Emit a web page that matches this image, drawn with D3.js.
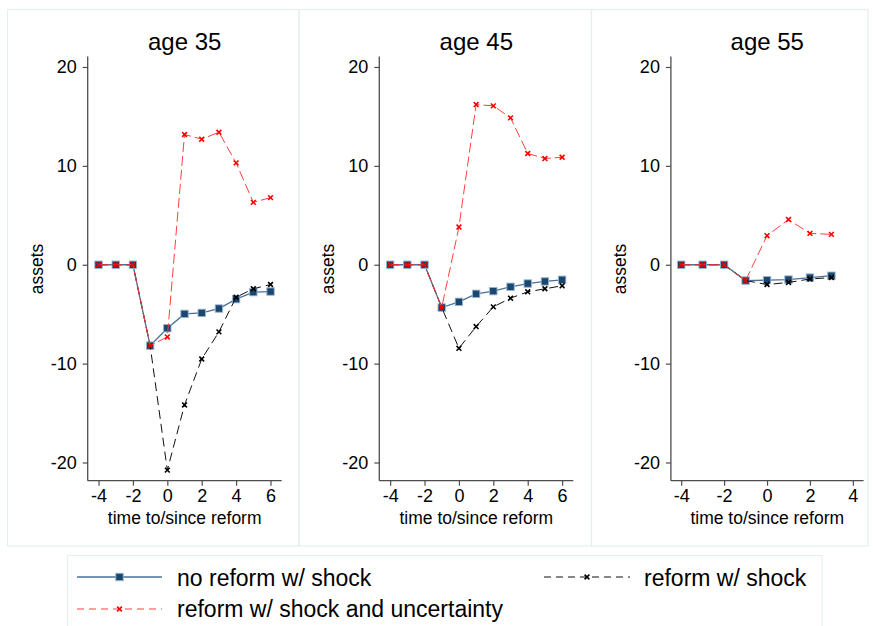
<!DOCTYPE html>
<html>
<head>
<meta charset="utf-8">
<script src="https://cdn.jsdelivr.net/npm/d3@7"></script>
<style>
  html, body { margin: 0; padding: 0; background: #fff; }
  text { font-family: "Liberation Sans", Arial, sans-serif; fill: #000; }
</style>
</head>
<body>
<script>
// ---------------- data ----------------
const panelTitles = ["age 35", "age 45", "age 55"];
const seriesNames = ["no reform w/ shock", "reform w/ shock", "reform w/ shock and uncertainty"];
const xLong = [-4, -3, -2, -1, 0, 1, 2, 3, 4, 5, 6];
const xShort = [-4, -3, -2, -1, 0, 1, 2, 3];
const xTicksLong = [-4, -2, 0, 2, 4, 6];
const xTicksShort = [-4, -2, 0, 2, 4];
const yTicks = [-20, -10, 0, 10, 20];

// age 35
const noReform35 = [0, 0, 0, -8.18, -6.42, -4.97, -4.87, -4.43, -3.48, -2.77, -2.71];
const reform35 = [0, 0, 0, -8.18, -20.77, -14.18, -9.53, -6.79, -3.28, -2.43, -2.0];
const reformUnc35 = [0, 0, 0, -8.18, -7.3, 13.17, 12.7, 13.4, 10.3, 6.31, 6.79];
// age 45
const noReform45 = [0, 0, 0, -4.33, -3.75, -2.94, -2.67, -2.23, -1.9, -1.69, -1.52];
const reform45 = [0, 0, 0, -4.33, -8.45, -6.25, -4.26, -3.38, -2.74, -2.43, -2.13];
const reformUnc45 = [0, 0, 0, -4.33, 3.81, 16.2, 16.07, 14.85, 11.25, 10.74, 10.87];
// age 55
const noReform55 = [0, 0, 0, -1.6, -1.56, -1.5, -1.3, -1.11];
const reform55 = [0, 0, 0, -1.6, -2.0, -1.79, -1.44, -1.3];
const reformUnc55 = [0, 0, 0, -1.6, 2.94, 4.57, 3.17, 3.07];

// ---------------- drawing ----------------
const W = 873, H = 626;
const FONT = "'Liberation Sans', Arial, sans-serif";
const svg = d3.select("body").append("svg").attr("width", W).attr("height", H);
svg.append("rect").attr("width", W).attr("height", H).attr("fill", "#fff");

const panels = [
  { title: panelTitles[0], x: xLong, ticks: xTicksLong, dom: [-4.63, 6.65], s: [noReform35, reform35, reformUnc35] },
  { title: panelTitles[1], x: xLong, ticks: xTicksLong, dom: [-4.63, 6.65], s: [noReform45, reform45, reformUnc45] },
  { title: panelTitles[2], x: xShort, ticks: xTicksShort, dom: [-4.48, 4.5], s: [noReform55, reform55, reformUnc55] }
];

const frameBorders = [[7.5, 299], [299, 591.5], [591.5, 868]];
const BLUE = "#1a476f";

const styles = [
  { stroke: "#4a7098", width: 1.3, dash: null, marker: "square" },
  { stroke: "#111", width: 1, dash: "9,5", marker: "x", mcolor: "#000" },
  { stroke: "#ff4040", width: 1, dash: "10,4", marker: "x", mcolor: "#ff0000" }
];

function drawX(g, cx, cy, r, color) {
  g.append("path")
    .attr("d", `M${cx - r},${cy - r}L${cx + r},${cy + r}M${cx - r},${cy + r}L${cx + r},${cy - r}`)
    .attr("stroke", color).attr("stroke-width", 1.6).attr("fill", "none");
}
function drawSquare(g, cx, cy) {
  g.append("rect").attr("x", cx - 3.7).attr("y", cy - 3.7).attr("width", 7.4).attr("height", 7.4)
    .attr("fill", BLUE).attr("stroke", "#9ab4cc").attr("stroke-width", 0.9);
}

panels.forEach((p, i) => {
  const [fx0, fx1] = frameBorders[i];
  svg.append("rect").attr("x", fx0).attr("y", 9.5).attr("width", fx1 - fx0).attr("height", 536.5)
    .attr("fill", "none").attr("stroke", "#e6eef1").attr("stroke-width", 1.2);

  const ox = 87.7 + i * 291.6;
  const x = d3.scaleLinear().domain(p.dom).range([ox, ox + (i === 2 ? 192.7 : 194)]);
  const y = d3.scaleLinear().domain([-21.84, 21.06]).range([480.7, 56.5]);
  const g = svg.append("g");

  // axes
  const fmt = d => String(d);
  const yAxis = d3.axisLeft(y).tickValues(yTicks).tickSize(5).tickPadding(6).tickFormat(fmt);
  const ya = g.append("g").attr("transform", `translate(${ox},0)`).call(yAxis);
  const xAxis = d3.axisBottom(x).tickValues(p.ticks).tickSize(5).tickPadding(4).tickFormat(fmt);
  const xa = g.append("g").attr("transform", "translate(0,480.7)").call(xAxis);
  [ya, xa].forEach(a => {
    a.select(".domain").attr("stroke", "#4d4d4d").attr("stroke-width", 1.3)
      .attr("d", a === ya ? `M0,${y.range()[1]}V${y.range()[0]}` : `M${x.range()[0]},0H${x.range()[1]}`);
    a.selectAll(".tick line").attr("stroke", "#4d4d4d").attr("stroke-width", 1.2);
    a.selectAll(".tick text").attr("font-size", 18).attr("fill", "#000").attr("font-family", FONT);
  });

  // titles
  g.append("text").attr("x", (x.range()[0] + x.range()[1]) / 2).attr("y", 50)
    .attr("text-anchor", "middle").attr("font-size", 24).attr("fill", "#1b2538").text(p.title);
  g.append("text").attr("x", (x.range()[0] + x.range()[1]) / 2).attr("y", 524)
    .attr("text-anchor", "middle").attr("font-size", 17.5).text("time to/since reform");
  g.append("text").attr("transform", `translate(${ox - 45},269) rotate(-90)`)
    .attr("text-anchor", "middle").attr("font-size", 17.5).text("assets");

  // series
  p.s.forEach((vals, k) => {
    const st = styles[k];
    const pts = p.x.map((xv, j) => [xv, vals[j]]);
    const line = d3.line().x(d => x(d[0])).y(d => y(d[1]));
    const path = g.append("path").attr("d", line(pts)).attr("fill", "none")
      .attr("stroke", st.stroke).attr("stroke-width", st.width);
    if (st.dash) path.attr("stroke-dasharray", st.dash);
    pts.forEach(d => {
      if (st.marker === "square") drawSquare(g, x(d[0]), y(d[1]));
      else drawX(g, x(d[0]), y(d[1]), 2.4, st.mcolor);
    });
  });
});

// ---------------- legend ----------------
svg.append("rect").attr("x", 67.5).attr("y", 555.5).attr("width", 754.5).attr("height", 80)
  .attr("fill", "#fff").attr("stroke", "#e6eef1").attr("stroke-width", 1.2);

const legendItems = [
  { k: 0, x0: 77, x1: 162, y: 577, tx: 177, ty: 586 },
  { k: 1, x0: 544, x1: 630, y: 577, tx: 644, ty: 586 },
  { k: 2, x0: 77, x1: 162, y: 609, tx: 177, ty: 617 }
];
legendItems.forEach(it => {
  const st = styles[it.k];
  const l = svg.append("line").attr("x1", it.x0).attr("x2", it.x1).attr("y1", it.y).attr("y2", it.y)
    .attr("stroke", st.stroke).attr("stroke-width", st.width);
  if (st.dash) l.attr("stroke-dasharray", "7,5");
  const cx = (it.x0 + it.x1) / 2;
  if (st.marker === "square") drawSquare(svg, cx, it.y);
  else drawX(svg, cx, it.y, 2.4, st.mcolor);
  svg.append("text").attr("x", it.tx).attr("y", it.ty).attr("font-size", 23).text(seriesNames[it.k]);
});
</script>
</body>
</html>
